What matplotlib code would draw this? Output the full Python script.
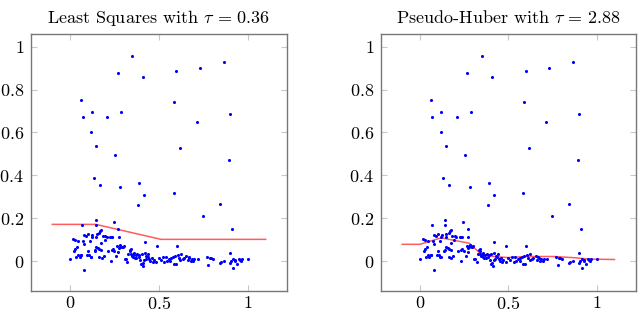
import numpy as np
import matplotlib
matplotlib.use("Agg")
import matplotlib.pyplot as plt

plt.rcParams['font.family'] = 'serif'
plt.rcParams['font.serif'] = ['cmr10', 'DejaVu Serif']
plt.rcParams['mathtext.fontset'] = 'cm'
plt.rcParams['axes.formatter.use_mathtext'] = True

# scatter data (same sample in both panels)
pts = [
    # outliers
    (0.064, 0.751), (0.071, 0.673), (0.122, 0.696), (0.120, 0.600), (0.146, 0.538),
    (0.132, 0.388), (0.166, 0.354), (0.207, 0.674), (0.254, 0.494), (0.269, 0.877),
    (0.281, 0.347), (0.289, 0.695), (0.350, 0.956), (0.389, 0.363), (0.383, 0.262),
    (0.408, 0.860), (0.417, 0.307), (0.586, 0.741), (0.585, 0.319), (0.598, 0.886),
    (0.619, 0.526), (0.714, 0.651), (0.731, 0.899), (0.748, 0.211), (0.843, 0.268),
    (0.867, 0.927), (0.893, 0.471), (0.900, 0.688), (0.908, 0.150),
    # cluster
    (0.143, 0.192), (0.143, 0.169), (0.066, 0.168), (0.246, 0.181), (0.272, 0.150),
    (0.169, 0.139), (0.162, 0.132), (0.103, 0.126), (0.079, 0.123), (0.184, 0.118),
    (0.205, 0.114), (0.224, 0.112), (0.235, 0.111), (0.273, 0.111), (0.090, 0.117),
    (0.126, 0.123), (0.147, 0.114), (0.015, 0.101), (0.026, 0.100), (0.075, 0.095),
    (0.113, 0.095), (0.173, 0.083), (0.081, 0.079), (0.030, 0.055), (0.024, 0.048),
    (0.038, 0.065), (0.064, 0.030), (0.045, 0.030), (0.094, 0.030), (0.109, 0.028),
    (0.117, 0.020), (0.162, 0.058), (0.145, 0.064), (0.175, 0.053), (0.165, 0.019),
    (0.177, 0.012), (0.139, 0.045), (0.002, 0.011), (0.034, 0.017), (0.079, -0.040),
    (0.231, 0.002), (0.233, 0.051), (0.248, 0.045), (0.240, 0.055), (0.265, 0.069),
    (0.274, 0.062), (0.293, 0.064), (0.301, 0.072), (0.312, 0.008), (0.321, -0.006),
    (0.335, 0.053), (0.342, 0.058), (0.338, 0.045), (0.340, 0.034), (0.352, 0.028),
    (0.359, 0.036), (0.368, 0.030), (0.378, 0.034), (0.385, 0.020), (0.395, 0.006),
    (0.404, 0.034), (0.410, -0.009), (0.412, -0.022), (0.417, 0.006), (0.419, 0.039),
    (0.420, 0.089), (0.429, 0.022), (0.440, 0.034), (0.445, 0.011), (0.451, -0.002),
    (0.470, 0.006), (0.485, -0.006), (0.487, 0.072), (0.521, 0.019), (0.530, -0.006),
    (0.538, 0.019), (0.545, -0.002), (0.564, -0.002), (0.577, 0.019), (0.585, -0.016),
    (0.594, -0.012), (0.600, 0.069), (0.605, 0.026), (0.613, 0.016), (0.624, 0.031),
    (0.633, 0.009), (0.654, 0.025), (0.662, 0.003), (0.671, 0.012), (0.679, -0.002),
    (0.686, 0.009), (0.699, 0.011), (0.718, 0.008), (0.771, 0.020), (0.778, -0.019),
    (0.793, 0.016), (0.803, 0.011), (0.844, -0.009), (0.863, -0.002), (0.897, 0.039),
    (0.900, -0.008), (0.915, 0.008), (0.917, -0.034), (0.925, 0.006), (0.938, -0.016),
    (0.949, 0.009), (0.959, -0.002), (0.968, 0.011), (1.002, 0.011),
    (0.054, 0.019), (0.060, 0.028), (0.116, 0.019), (0.150, 0.128), (0.176, 0.145),
    (0.158, 0.062), (0.141, 0.050), (0.199, 0.117), (0.238, 0.112), (0.278, 0.064),
    (0.283, 0.076), (0.295, 0.064), (0.308, 0.009), (0.328, 0.034), (0.348, 0.023),
    (0.355, 0.020), (0.364, 0.012), (0.372, 0.014), (0.390, 0.030), (0.401, -0.016),
    (0.425, 0.008), (0.436, 0.020), (0.458, 0.015), (0.466, -0.006), (0.500, 0.015),
    (0.510, 0.005), (0.555, 0.010), (0.568, 0.012), (0.590, 0.022), (0.620, 0.004),
    (0.640, 0.015), (0.667, 0.020), (0.694, 0.002), (0.785, 0.012), (0.850, -0.006),
    (0.905, 0.002), (0.930, 0.000), (0.955, 0.006), (0.121, 0.112), (0.195, 0.097),
    (0.261, 0.023), (0.270, 0.040), (0.046, 0.094), (0.100, 0.045), (0.188, 0.024),
    (0.215, 0.045),
]
x_pts = np.array([p[0] for p in pts])
y_pts = np.array([p[1] for p in pts])

# fitted curves
ls_x = [-0.1, 0.145, 0.512, 1.1]
ls_y = [0.171, 0.171, 0.101, 0.101]
ph_x = [-0.1, 0.0, 0.12, 0.28, 0.34, 0.40, 0.50, 0.60, 0.76, 0.88, 0.95, 1.1]
ph_y = [0.078, 0.078, 0.108, 0.083, 0.036, 0.022, 0.016, 0.021, 0.021, 0.015, 0.009, 0.007]

titles = [r'Least Squares with $\tau\,=\,0.36$', r'Pseudo-Huber with $\tau\,=\,2.88$']
curves = [(ls_x, ls_y), (ph_x, ph_y)]
xticks = [0, 0.5, 1]
xticklabels = ['$0$', '$0.5$', '$1$']
yticks = [0, 0.2, 0.4, 0.6, 0.8, 1]
yticklabels = ['$0$', '$0.2$', '$0.4$', '$0.6$', '$0.8$', '$1$']

fig = plt.figure(figsize=(6.4, 3.12), dpi=100)
positions = [[0.0484, 0.0673, 0.400, 0.824], [0.5953, 0.0673, 0.398, 0.824]]

for pos, title, (cx, cy) in zip(positions, titles, curves):
    ax = fig.add_axes(pos)
    ax.scatter(x_pts, y_pts, s=5, color='blue', linewidths=0, zorder=3)
    ax.plot(cx, cy, color='#ff5c5c', lw=1.1, zorder=2)
    ax.set_xlim(-0.22, 1.22)
    ax.set_ylim(-0.14, 1.06)
    ax.set_xticks(xticks, labels=xticklabels)
    ax.set_yticks(yticks, labels=yticklabels)
    ax.tick_params(direction='in', length=4, width=0.8, color='#c8c8c8',
                   top=True, right=True, labelsize=13)
    ax.tick_params(axis='x', pad=3)
    ax.tick_params(axis='y', pad=5)
    for s in ax.spines.values():
        s.set_color('#777777')
        s.set_linewidth(1.0)
    ax.set_title(title, fontsize=13, pad=8)

fig.savefig('out.png', dpi=100)
